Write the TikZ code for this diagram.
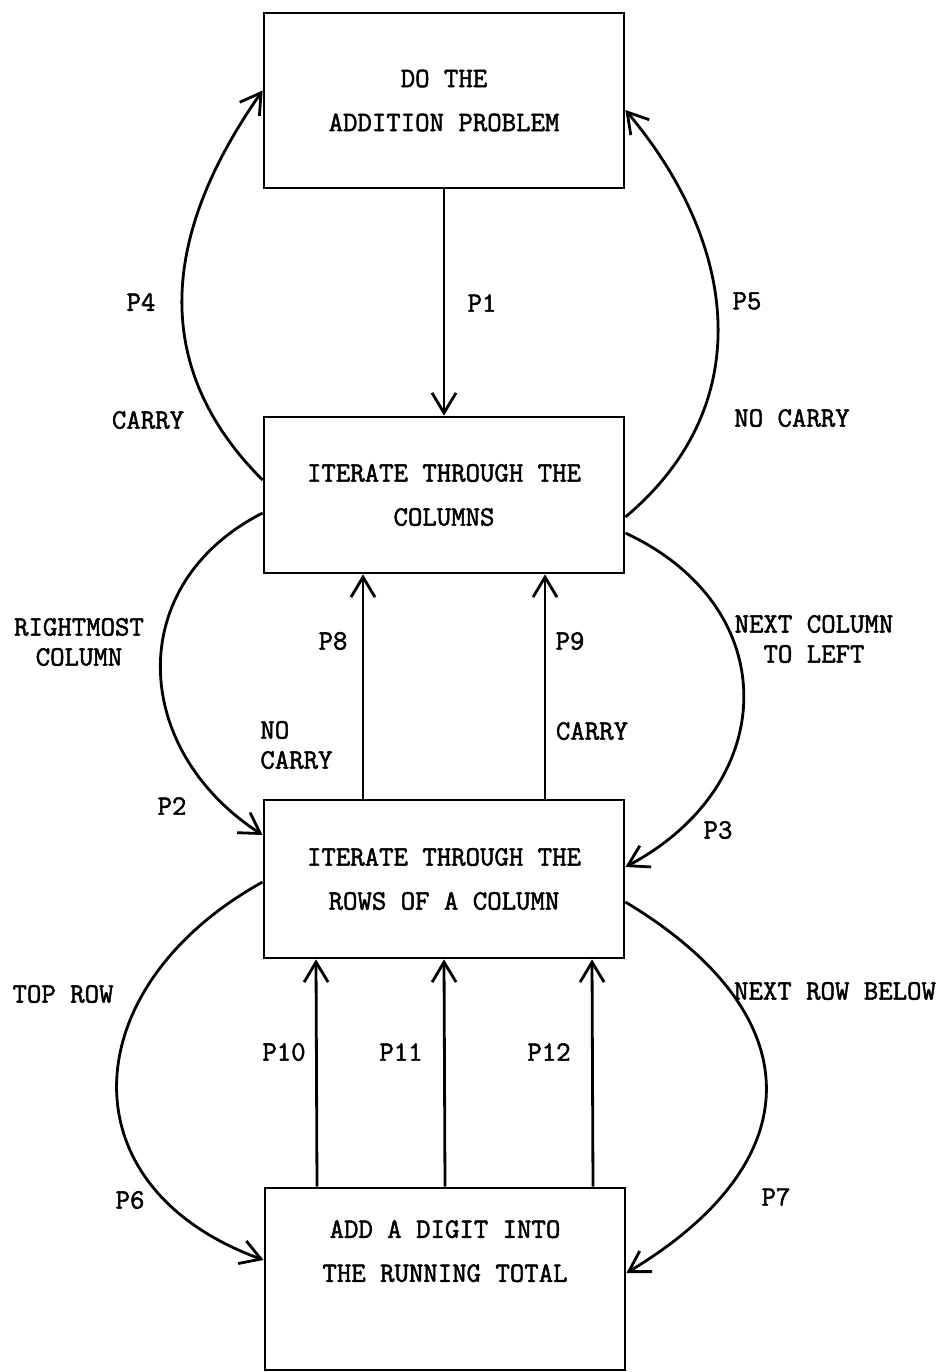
\documentclass[tikz,border=0pt]{standalone}
\usepackage{fontspec}
\setmonofont[AutoFakeBold=1.8]{Latin Modern Mono}
\usepackage{tikz}
\usetikzlibrary{arrows.meta}

\begin{document}
\begin{tikzpicture}[
    x=0.5pt, y=0.5pt,
    every node/.style={font=\ttfamily\bfseries\fontsize{14}{15}\selectfont},
    block/.style={
        rectangle,
        draw,
        line width=1.4pt,
        align=center,
        minimum width=180pt,
        font=\ttfamily\bfseries\fontsize{14}{22}\selectfont
    },
    tag/.style={inner sep=0pt},
    arrow/.style={line width=1.4pt,-{Straight Barb[length=10pt,width=12pt]}}
]
\useasboundingbox (0,0) rectangle (944,-1372);

% the four boxes
\node (prob) [block, minimum height=87.5pt] at (444,-100.5) {DO THE\\ADDITION PROBLEM};
\node (cols) [block, minimum height=78pt] at (444,-495) {ITERATE THROUGH THE\\COLUMNS};
\node (rows) [block, minimum height=79pt] at (444,-879) {ITERATE THROUGH THE\\ROWS OF A COLUMN};
\node (digit) [block, minimum height=91pt, text depth=28pt] at (445,-1279) {ADD A DIGIT INTO\\THE RUNNING TOTAL};

% straight links
\draw [arrow] (prob.south) -- (cols.north);
\draw [arrow] ([xshift=-40.5pt]rows.north) -- ([xshift=-40.5pt]cols.south);
\draw [arrow] ([xshift=50.5pt]rows.north) -- ([xshift=50.5pt]cols.south);
\draw [arrow] ([xshift=-64pt]digit.north) -- ([xshift=-64pt]rows.south);
\draw [arrow] (digit.north) -- (rows.south);
\draw [arrow] ([xshift=74pt]digit.north) -- ([xshift=74pt]rows.south);

% curved links
\draw [arrow] ([yshift=7.5pt]cols.west) to[out=135,in=-125,looseness=1.1] ([yshift=5pt]prob.west);
\draw [arrow] ([yshift=-11pt]cols.east) to[out=40,in=-50,looseness=1.1] ([yshift=-4.75pt]prob.east);
\draw [arrow] ([yshift=-9pt]cols.west) to[out=207,in=147,looseness=1.25] ([yshift=22pt]rows.west);
\draw [arrow] ([yshift=-19pt]cols.east) to[out=-25,in=28,looseness=1.35] ([yshift=6pt]rows.east);
\draw [arrow] ([yshift=-1.5pt]rows.west) to[out=209,in=160,looseness=1.45] ([yshift=9.5pt]digit.west);
\draw [arrow] ([yshift=-11.5pt]rows.east) to[out=-31,in=31,looseness=1.5] ([yshift=3pt]digit.east);

% path names
\node (p1) [tag] at (482,-303) {P1};
\node (p2) [tag] at (172,-806) {P2};
\node (p3) [tag] at (718,-830) {P3};
\node (p4) [tag] at (141,-302) {P4};
\node (p5) [tag] at (747,-301) {P5};
\node (p6) [tag] at (130,-1200) {P6};
\node (p7) [tag] at (776,-1197) {P7};
\node (p8) [tag] at (333,-641) {P8};
\node (p9) [tag] at (570,-641) {P9};
\node (p10) [tag] at (284,-1052) {P10};
\node (p11) [tag] at (401,-1052) {P11};
\node (p12) [tag] at (549,-1052) {P12};

% conditions
\node (carryup) [tag] at (148,-420) {CARRY};
\node (nocarryup) [tag] at (792,-418) {NO CARRY};
\node (rightmost) [tag, align=center] at (79,-642) {RIGHTMOST\\COLUMN};
\node (nextcol) [tag, align=center] at (814,-639) {NEXT COLUMN\\TO LEFT};
\node (nocarry) [tag, align=left, anchor=west] at (260,-745) {NO\\CARRY};
\node (carry) [tag] at (592,-731) {CARRY};
\node (toprow) [tag] at (63,-994) {TOP ROW};
\node (nextrow) [tag] at (835,-991) {NEXT ROW BELOW};

\end{tikzpicture}
\end{document}
